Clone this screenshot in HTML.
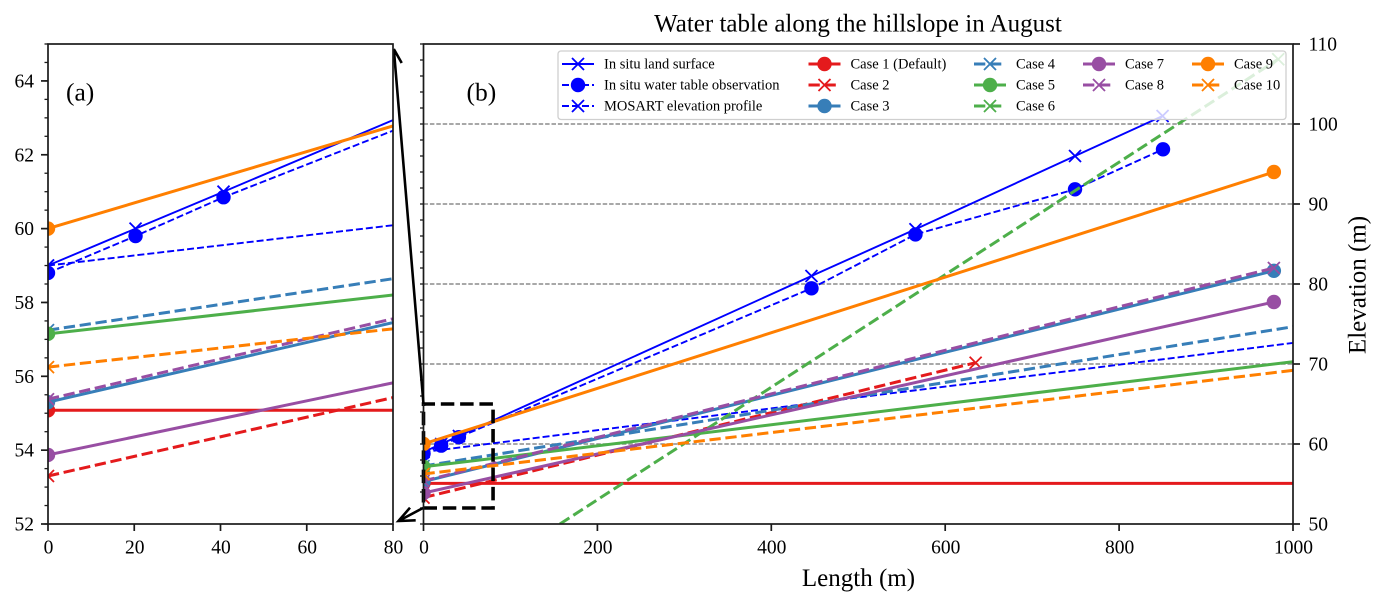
<!DOCTYPE html>
<html>
<head>
<meta charset="utf-8">
<title>Water table along the hillslope in August</title>
<style>
html,body{margin:0;padding:0;background:#fff;width:1385px;height:606px;overflow:hidden}
svg{display:block}
text{font-family:"Liberation Serif","Times New Roman",serif;fill:#000}
</style>
</head>
<body>
<svg id="chart" xmlns="http://www.w3.org/2000/svg" width="1385" height="606" viewBox="0 0 1385 606">
  <defs>
    <clipPath id="clip-a"><rect x="48" y="44" width="345" height="480"/></clipPath>
    <clipPath id="clip-b"><rect x="423.5" y="44" width="869.5" height="480"/></clipPath>
  </defs>
  <rect x="0" y="0" width="1385" height="606" fill="#fff"/>
  <g id="panel-b"></g>
  <g id="arrows" fill="none" stroke="#000" stroke-width="2.6">
    <path d="M423.5 404 L393.8 49 M393.8 49 L401.7 63"/>
    <path d="M423 508 L398.5 521 M410 507.7 L398.5 521 L415.7 520.3"/>
  </g>
  <g id="panel-a"></g>
  <text x="66" y="100.5" font-size="25.5">(a)</text>
  <text x="466.5" y="100.5" font-size="25.5">(b)</text>
  <text x="858" y="31.5" font-size="25" text-anchor="middle">Water table along the hillslope in August</text>
  <text x="858.5" y="586" font-size="25" text-anchor="middle">Length (m)</text>
  <text transform="translate(1365.5 285) rotate(-90)" font-size="25" text-anchor="middle">Elevation (m)</text>
  <g id="legend"></g>
</svg>
<script>
// ---- Data (x: length in m, y: elevation in m) ----
const landX = [0, 20.3, 40.7, 446.2, 565.8, 749.3, 850];
const landY = [59, 60, 61, 81, 86.84, 96, 101];
const waterX = [0, 20.3, 40.7, 446.2, 565.8, 749.3, 850.5];
const waterY = [58.8, 59.8, 60.85, 79.46, 86.2, 91.84, 96.84];
const mosartX = [0, 1100];
const mosartY = [59, 74];
const case1X = [0, 1100];
const case1Y = [55.08, 55.08];
const case2X = [0, 635];
const case2Y = [53.3, 70.16];
const case3X = [0, 978];
const case3Y = [55.3, 81.65];
const case4X = [0, 1100];
const case4Y = [57.25, 76.4];
const case5X = [0, 1100];
const case5Y = [57.15, 71.6];
const case6X = [100, 983];
const case6Y = [46, 108.1];
const case7X = [0, 978];
const case7Y = [53.87, 77.75];
const case8X = [0, 978];
const case8Y = [55.38, 82];
const case9X = [0, 978];
const case9Y = [60, 94];
const case10X = [0, 1100];
const case10Y = [56.25, 70.5];

const ticksAX = [0, 20, 40, 60, 80];
const ticksAY = [52, 54, 56, 58, 60, 62, 64];
const minorTicksAY = [52, 52.5, 53, 53.5, 54, 54.5, 55, 55.5, 56, 56.5, 57, 57.5, 58, 58.5, 59, 59.5, 60, 60.5, 61, 61.5, 62, 62.5, 63, 63.5, 64, 64.5, 65];
const ticksBX = [0, 200, 400, 600, 800, 1000];
const ticksBY = [50, 60, 70, 80, 90, 100, 110];
const leftTicksBY = [50, 52, 54, 56, 58, 60, 62, 64, 66, 68, 70, 72, 74, 76, 78, 80, 82, 84, 86, 88, 90, 92, 94, 96, 98, 100, 102, 104, 106, 108, 110];
const gridBY = [60, 70, 80, 90, 100];
const boxX = [0, 80];
const boxY = [52, 65];

// ---- Axis functions ----
const domainA = {xMin: 0, xMax: 80, yMin: 52, yMax: 65};
const domainB = {xMin: 0, xMax: 1000, yMin: 50, yMax: 110};
const xA = v => 48 + (v - 0) / 80 * 345;
const yA = v => 524 - (v - 52) / 13 * 480;
const xB = v => 423.5 + (v - 0) / 1000 * 869.5;
const yB = v => 524 - (v - 50) / 60 * 480;

const BLUE = '#0000ff', RED = '#e41a1c', STEEL = '#377eb8', GREEN = '#4daf4a', PURPLE = '#984ea3', ORANGE = '#ff7f00';
const THIN = {w: 1.9, dash: '7 3'};
const THICK = {w: 3, dash: '11.3 4.7'};

const series = [
  {key: 'land-surface', label: 'In situ land surface', x: landX, y: landY, c: BLUE, w: 1.9, dash: null, m: 'x'},
  {key: 'water-table', label: 'In situ water table observation', x: waterX, y: waterY, c: BLUE, w: 1.9, dash: THIN.dash, m: 'o'},
  {key: 'mosart-profile', label: 'MOSART elevation profile', x: mosartX, y: mosartY, c: BLUE, w: 1.9, dash: THIN.dash, m: 'x'},
  {key: 'case-1', label: 'Case 1 (Default)', x: case1X, y: case1Y, c: RED, w: THICK.w, dash: null, m: 'o'},
  {key: 'case-2', label: 'Case 2', x: case2X, y: case2Y, c: RED, w: THICK.w, dash: THICK.dash, m: 'x'},
  {key: 'case-3', label: 'Case 3', x: case3X, y: case3Y, c: STEEL, w: THICK.w, dash: null, m: 'o'},
  {key: 'case-4', label: 'Case 4', x: case4X, y: case4Y, c: STEEL, w: THICK.w, dash: THICK.dash, m: 'x'},
  {key: 'case-5', label: 'Case 5', x: case5X, y: case5Y, c: GREEN, w: THICK.w, dash: null, m: 'o'},
  {key: 'case-6', label: 'Case 6', x: case6X, y: case6Y, c: GREEN, w: THICK.w, dash: THICK.dash, m: 'x'},
  {key: 'case-7', label: 'Case 7', x: case7X, y: case7Y, c: PURPLE, w: THICK.w, dash: null, m: 'o'},
  {key: 'case-8', label: 'Case 8', x: case8X, y: case8Y, c: PURPLE, w: THICK.w, dash: THICK.dash, m: 'x'},
  {key: 'case-9', label: 'Case 9', x: case9X, y: case9Y, c: ORANGE, w: THICK.w, dash: null, m: 'o'},
  {key: 'case-10', label: 'Case 10', x: case10X, y: case10Y, c: ORANGE, w: THICK.w, dash: THICK.dash, m: 'x'}
];

const NS = 'http://www.w3.org/2000/svg';
function mk(tag, parent, attrs) {
  const el = document.createElementNS(NS, tag);
  for (const k in attrs) el.setAttribute(k, attrs[k]);
  parent.appendChild(el);
  return el;
}
function marker(parent, type, cx, cy, color) {
  if (type === 'o') {
    return mk('circle', parent, {cx: cx, cy: cy, r: 7.2, fill: color});
  }
  const s = 6;
  return mk('path', parent, {
    d: 'M' + (cx - s) + ' ' + (cy - s) + 'L' + (cx + s) + ' ' + (cy + s) + 'M' + (cx - s) + ' ' + (cy + s) + 'L' + (cx + s) + ' ' + (cy - s),
    stroke: color, 'stroke-width': 1.8, fill: 'none'
  });
}
// Clip one data segment to the axis domain (Liang-Barsky); null when it lies outside.
function clipSegment(x0, y0, x1, y1, d) {
  let t0 = 0, t1 = 1;
  const dx = x1 - x0, dy = y1 - y0;
  const tests = [[-dx, x0 - d.xMin], [dx, d.xMax - x0], [-dy, y0 - d.yMin], [dy, d.yMax - y0]];
  for (const [p, q] of tests) {
    if (p === 0) {
      if (q < 0) return null;
    } else {
      const r = q / p;
      if (p < 0) { if (r > t1) return null; if (r > t0) t0 = r; }
      else { if (r < t0) return null; if (r < t1) t1 = r; }
    }
  }
  return [x0 + t0 * dx, y0 + t0 * dy, x0 + t1 * dx, y0 + t1 * dy];
}
function drawSeries(parent, fx, fy, clipId, domain) {
  const g = mk('g', parent, {'clip-path': 'url(#' + clipId + ')'});
  
  
  series.forEach(s => {
    const pts = [];
    for (let i = 0; i + 1 < s.x.length; i++) {
      const seg = clipSegment(s.x[i], s.y[i], s.x[i + 1], s.y[i + 1], domain);
      if (!seg) continue;
      if (!pts.length) pts.push(fx(seg[0]).toFixed(2) + ',' + fy(seg[1]).toFixed(2));
      pts.push(fx(seg[2]).toFixed(2) + ',' + fy(seg[3]).toFixed(2));
    }
    if (pts.length) {
      const attrs = {points: pts.join(' '), fill: 'none', stroke: s.c, 'stroke-width': s.w};
      if (s.dash) attrs['stroke-dasharray'] = s.dash;
      const line = mk('polyline', g, attrs);
      
      
    }
    s.x.forEach((v, i) => {
      const inside = v >= domain.xMin && v <= domain.xMax && s.y[i] >= domain.yMin && s.y[i] <= domain.yMax;
      if (!inside) return;
      const mark = marker(g, s.m, fx(v), fy(s.y[i]), s.c);
      
      
    });
  });
}
function tick(parent, x1, y1, x2, y2, w) {
  const t = mk('line', parent, {x1: x1, y1: y1, x2: x2, y2: y2, stroke: '#1a1a1a', 'stroke-width': w});
  
  
  return t;
}
function tickLabel(parent, x, y, str, anchor) {
  const t = mk('text', parent, {x: x, y: y, 'font-size': 19.5, 'text-anchor': anchor});
  t.textContent = str;
  
  
  return t;
}
function frame(parent, x, y, w, h) {
  const r = mk('rect', parent, {x: x, y: y, width: w, height: h, fill: 'none', stroke: '#1a1a1a', 'stroke-width': 1.7});
  
  
}

// ---- Panel (b) ----
const pb = document.getElementById('panel-b');
gridBY.forEach(v => {
  const l = mk('line', pb, {x1: xB(0), x2: xB(1000), y1: yB(v), y2: yB(v), stroke: '#8c8c8c', 'stroke-width': 1.4, 'stroke-dasharray': '4.5 1.9'});
  
  
});
drawSeries(pb, xB, yB, 'clip-b', domainB);
const box = mk('path', pb, {
  d: 'M' + xB(boxX[0]) + ' ' + yB(boxY[0]) + 'H' + xB(boxX[1]) + 'V' + yB(boxY[1]) + 'H' + xB(boxX[0]) + 'Z',
  fill: 'none', stroke: '#000', 'stroke-width': 3.6, 'stroke-dasharray': '13.5 5.8'
});


frame(pb, 423.5, 44, 869.5, 480);
ticksBX.forEach(v => {
  tick(pb, xB(v), 524, xB(v), 531, 1.7);
  tickLabel(pb, xB(v) + 0.5, 553.5, String(v), 'middle');
});
ticksBY.forEach(v => {
  tick(pb, 1293, yB(v), 1300, yB(v), 1.7);
  tickLabel(pb, 1308.5, yB(v) + 6.5, String(v), 'start');
});
leftTicksBY.forEach(v => {
  tick(pb, 420, yB(v), 423.5, yB(v), 1.3);
});

// ---- Panel (a) ----
const pa = document.getElementById('panel-a');
const paBg = mk('rect', pa, {x: 48, y: 44, width: 345, height: 480, fill: '#fff'});


drawSeries(pa, xA, yA, 'clip-a', domainA);
frame(pa, 48, 44, 345, 480);
ticksAX.forEach(v => {
  tick(pa, xA(v), 524, xA(v), 531, 1.7);
  tickLabel(pa, xA(v) + 0.5, 553.5, String(v), 'middle');
});
ticksAY.forEach(v => {
  tick(pa, 41, yA(v), 48, yA(v), 1.7);
  tickLabel(pa, 34, yA(v) + 6.5, String(v), 'end');
});
minorTicksAY.forEach(v => {
  tick(pa, 44.5, yA(v), 48, yA(v), 1.3);
});

// ---- Legend ----
const lg = document.getElementById('legend');
const lgBox = mk('rect', lg, {x: 558, y: 51, width: 728, height: 68.5, rx: 3, fill: 'rgba(255,255,255,0.8)', stroke: '#cfcfcf', 'stroke-width': 1.3});


const legendCols = [562, 808.5, 974, 1083, 1192];
const legendRows = [64, 85, 106];
const legendCounts = [3, 3, 3, 2, 2];
let legendIdx = 0;
legendCols.forEach((cx, ci) => {
  for (let r = 0; r < legendCounts[ci]; r++) {
    const s = series[legendIdx++];
    const ly = legendRows[r];
    const entry = mk('g', lg, {});
    
    
    const attrs = {x1: cx, x2: cx + 32, y1: ly, y2: ly, stroke: s.c, 'stroke-width': s.w};
    if (s.dash) attrs['stroke-dasharray'] = s.dash;
    const h = mk('line', entry, attrs);
    
    
    const m = marker(entry, s.m, cx + 16, ly, s.c);
    
    
    const t = mk('text', entry, {x: cx + 42, y: ly + 4.5, 'font-size': 14.5});
    t.textContent = s.label;
    
    
  }
});
</script>
</body>
</html>
